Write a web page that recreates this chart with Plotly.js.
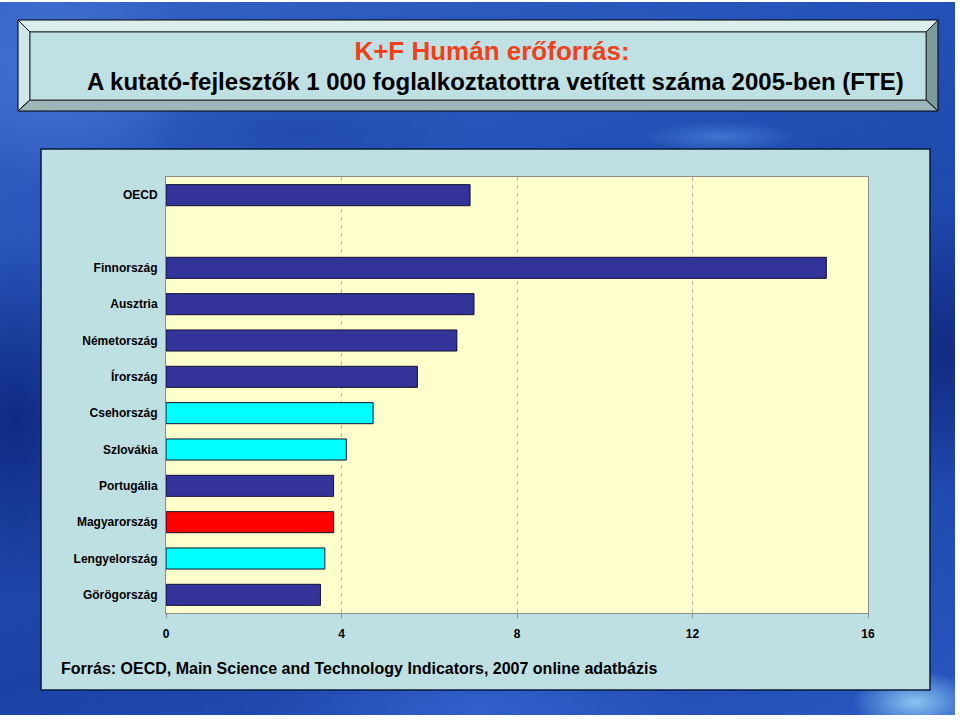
<!DOCTYPE html>
<html>
<head>
<meta charset="utf-8">
<script src="https://cdn.plot.ly/plotly-3.0.1.min.js"></script>
<style>
  html, body { margin: 0; padding: 0; background: #ffffff; width: 960px; height: 720px; overflow: hidden; }
  #bg {
    position: absolute; left: 0; top: 2px; width: 955px; height: 713px;
    background:
      radial-gradient(ellipse 90px 45px at 915px 700px, rgba(160,225,255,0.8), rgba(160,225,255,0) 70%),
      radial-gradient(ellipse 110px 22px at 720px 135px, rgba(100,160,240,0.45), rgba(100,160,240,0) 70%),
      radial-gradient(ellipse 200px 160px at 60px 70px, rgba(80,130,225,0.6), rgba(80,130,225,0) 70%),
      radial-gradient(ellipse 220px 200px at 945px 350px, rgba(15,40,125,0.85), rgba(15,40,125,0) 70%),
      radial-gradient(ellipse 160px 260px at 15px 420px, rgba(12,35,120,0.85), rgba(12,35,120,0) 70%),
      radial-gradient(ellipse 300px 90px at 480px 708px, rgba(55,100,210,0.8), rgba(55,100,210,0) 70%),
      radial-gradient(ellipse 250px 60px at 300px 130px, rgba(30,70,170,0.7), rgba(30,70,170,0) 70%),
      linear-gradient(160deg, #3562c6 0%, #2350b6 35%, #1b43a6 65%, #2856c0 100%);
  }
  #deco { position: absolute; left: 0; top: 0; }
  #chart { position: absolute; left: 0; top: 0; width: 960px; height: 720px; }
</style>
</head>
<body>
<div id="bg"></div>
<svg id="deco" width="960" height="720">
  <!-- title box bevel -->
  <polygon points="18,20 938,20 926,32 30,32" fill="#dcefef" stroke="#000" stroke-width="1"/>
  <polygon points="18,20 30,32 30,100 18,111" fill="#cfe7e8" stroke="#000" stroke-width="1"/>
  <polygon points="938,20 938,111 926,100 926,32" fill="#7c9a9c" stroke="#000" stroke-width="1"/>
  <polygon points="18,111 30,100 926,100 938,111" fill="#9db6b8" stroke="#000" stroke-width="1"/>
  <rect x="30" y="32" width="896" height="68" fill="#c0e1e4" stroke="#333" stroke-width="1"/>
  <!-- chart area box -->
  <rect x="41" y="149" width="889" height="541" fill="#bfe0e3" stroke="#0a1a3a" stroke-width="1.5"/>
</svg>
<div id="chart"></div>
<script>
// ---- data ----
const categories = ["OECD", " ", "Finnország", "Ausztria", "Németország", "Írország",
  "Csehország", "Szlovákia", "Portugália", "Magyarország", "Lengyelország", "Görögország"];
const values = [6.93, null, 15.05, 7.02, 6.63, 5.73, 4.72, 4.11, 3.82, 3.82, 3.62, 3.52];
const xTicks = [0, 4, 8, 12, 16];
const titleLine1 = "K+F Humán erőforrás:";
const titleLine2 = "A kutató-fejlesztők 1 000 foglalkoztatottra vetített száma 2005-ben (FTE)";
const sourceNote = "Forrás: OECD, Main Science and Technology Indicators, 2007 online adatbázis";

// ---- styles ----
const NAVY = "#333399", CYAN = "#00ffff", RED = "#ff0000";
const highlight = {"Csehország": CYAN, "Szlovákia": CYAN, "Lengyelország": CYAN, "Magyarország": RED};
const barColors = categories.map(c => highlight[c] || NAVY);

const FONT = "Liberation Sans, Arial, sans-serif";

const trace = {
  type: "bar",
  orientation: "h",
  y: categories,
  x: values,
  marker: { color: barColors, line: { color: "#111133", width: 1 } },
  hoverinfo: "x+y"
};

const layout = {
  width: 960, height: 720,
  margin: { l: 166, r: 92, t: 177, b: 107, pad: 0 },
  paper_bgcolor: "rgba(0,0,0,0)",
  plot_bgcolor: "#ffffcc",
  bargap: 0.42,
  showlegend: false,
  font: { family: FONT, color: "#000" },
  title: {
    text: titleLine1,
    font: { family: FONT, size: 26, color: "#f0401a", weight: "bold" },
    x: 492 / 960, xref: "container", xanchor: "center",
    y: 1 - 42 / 720, yref: "container", yanchor: "top"
  },
  annotations: [
    {
      text: titleLine2, showarrow: false,
      xref: "paper", yref: "paper",
      x: (495 - 166) / 702, xanchor: "center",
      y: (613 - 82) / 436, yanchor: "middle",
      font: { family: FONT, size: 24, color: "#000", weight: "bold" }
    },
    {
      text: sourceNote, showarrow: false,
      xref: "paper", yref: "paper",
      x: (59 - 166) / 702, xanchor: "left",
      y: (613 - 668) / 436, yanchor: "middle",
      font: { family: FONT, size: 16, color: "#000", weight: "bold" }
    }
  ],
  xaxis: {
    range: [0, 16],
    tickvals: xTicks,
    ticktext: xTicks.map(String),
    showgrid: true, gridcolor: "#b8b8a8", griddash: "4px,4px", gridwidth: 1,
    zeroline: false,
    showline: true, linecolor: "#8c8c8c", linewidth: 1, mirror: true,
    ticks: "outside", ticklen: 4, tickcolor: "#8c8c8c",
    ticklabelstandoff: 6,
    tickfont: { family: FONT, size: 12, color: "#000", weight: "bold" },
    fixedrange: true
  },
  yaxis: {
    type: "category",
    categoryorder: "array", categoryarray: categories,
    autorange: "reversed",
    showgrid: false, zeroline: false,
    showline: true, linecolor: "#8c8c8c", linewidth: 1, mirror: true,
    ticks: "", ticklabelstandoff: 5,
    tickfont: { family: FONT, size: 12, color: "#000", weight: "bold" },
    fixedrange: true
  }
};

Plotly.newPlot("chart", [trace], layout, { displayModeBar: false, staticPlot: true });
</script>
</body>
</html>
